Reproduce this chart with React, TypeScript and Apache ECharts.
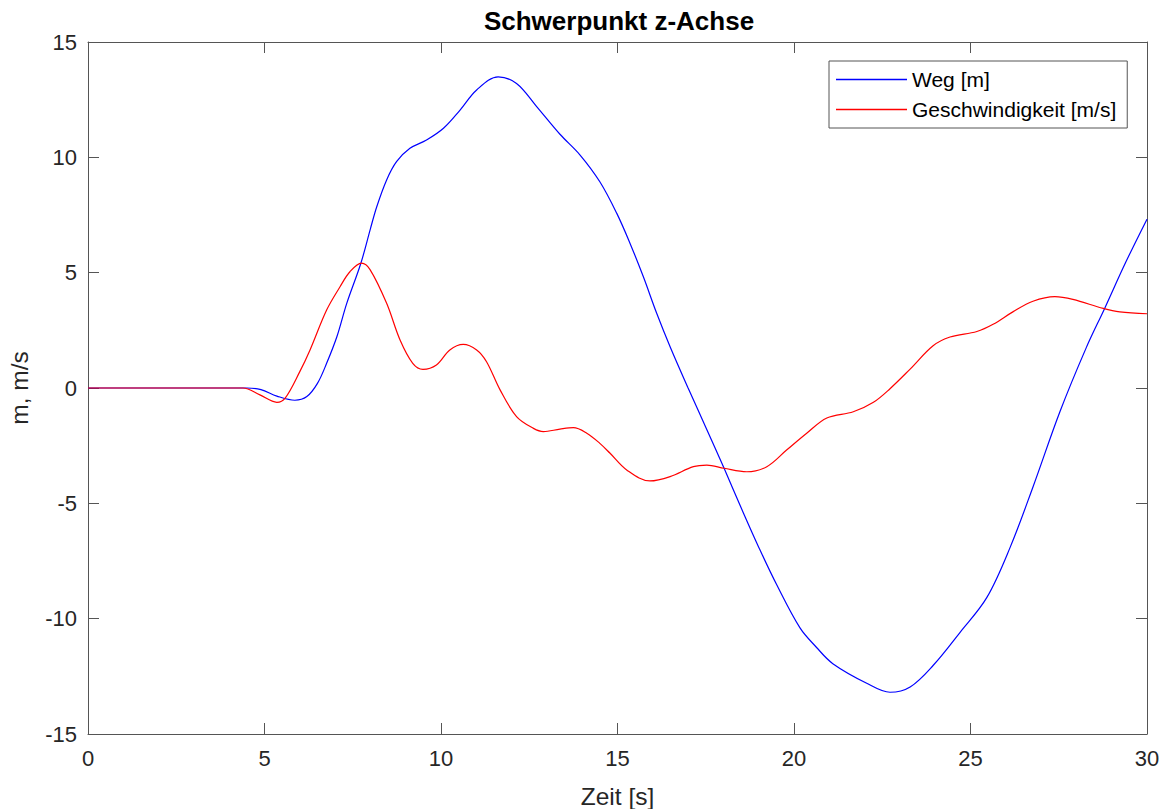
import React, { useEffect, useRef } from "react";
import * as echarts from "echarts";

const chartTitle = "Schwerpunkt z-Achse";
const xName = "Zeit [s]";
const yName = "m, m/s";
const seriesNames = ["Weg [m]", "Geschwindigkeit [m/s]"];

const tWeg = [0, 2, 4, 4.5, 4.9, 5.35, 5.86, 6.2, 6.5, 6.76, 7.05, 7.33, 7.73, 8.0, 8.18, 8.46, 8.74, 9.12, 9.59, 10.07, 10.54, 11.01, 11.62, 12.14, 12.71, 13.37, 13.94, 14.5, 14.98, 15.35, 15.73, 16.11, 16.49, 17.0, 17.5, 18.02, 18.53, 19.0, 19.5, 20.17, 20.64, 21.1, 22.06, 22.72, 23.29, 23.94, 24.7, 25.46, 26.12, 26.77, 27.53, 28.28, 28.8, 29.4, 30];
const weg = [0, 0, 0, 0, -0.07, -0.35, -0.53, -0.37, 0.2, 1.07, 2.22, 3.67, 5.41, 6.9, 7.86, 9.02, 9.81, 10.39, 10.75, 11.26, 12.05, 12.92, 13.49, 13.2, 12.2, 11.0, 10.1, 8.94, 7.57, 6.29, 4.83, 3.24, 1.79, 0, -1.7, -3.48, -5.29, -6.9, -8.5, -10.4, -11.25, -11.95, -12.8, -13.19, -12.96, -12.03, -10.6, -9.09, -6.92, -4.29, -1.04, 1.75, 3.45, 5.46, 7.32];

const tV = [0, 2, 4, 4.39, 4.87, 5.35, 5.58, 6.0, 6.29, 6.76, 7.14, 7.42, 7.75, 7.99, 8.46, 8.84, 9.2, 9.49, 9.87, 10.25, 10.63, 11.01, 11.29, 11.67, 12.14, 12.62, 12.9, 13.37, 13.75, 14.13, 14.5, 14.79, 15.26, 15.92, 16.49, 17.15, 17.53, 18.02, 18.66, 19.23, 19.79, 20.36, 20.93, 21.68, 22.25, 22.72, 23.29, 23.94, 24.42, 25.18, 25.64, 26.2, 26.77, 27.39, 27.9, 28.76, 29.23, 30];
const geschw = [0, 0, 0, 0, -0.3, -0.62, -0.45, 0.71, 1.65, 3.38, 4.39, 5.04, 5.41, 5.13, 3.67, 2.08, 1.07, 0.81, 1.0, 1.65, 1.89, 1.65, 1.14, -0.07, -1.24, -1.75, -1.89, -1.78, -1.72, -1.96, -2.4, -2.83, -3.55, -4.03, -3.84, -3.41, -3.34, -3.48, -3.63, -3.41, -2.69, -1.96, -1.3, -1.03, -0.62, -0.03, 0.82, 1.83, 2.21, 2.45, 2.76, 3.3, 3.76, 3.96, 3.84, 3.45, 3.3, 3.22];

const FONT = "'Liberation Sans', Arial, Helvetica, sans-serif";
const AXIS = "#555555";
const TXT = "#262626";

export default function App() {
  const ref = useRef<HTMLDivElement>(null);
  useEffect(() => {
    if (!ref.current) return;
    const chart = echarts.init(ref.current, undefined, { renderer: "svg" });
    const axisCommon = {
      type: "value" as const,
      axisLine: { show: true, onZero: false, lineStyle: { color: AXIS, width: 1 } },
      axisTick: { show: true, inside: true, length: 11, lineStyle: { color: AXIS, width: 1 } },
      splitLine: { show: false },
    };
    chart.setOption({
      animation: false,
      backgroundColor: "#ffffff",
      title: {
        text: chartTitle,
        left: 619,
        top: 8,
        padding: 0,
        textAlign: "center",
        textStyle: { fontFamily: FONT, fontSize: 26, fontWeight: "bold", color: "#000" },
      },
      legend: {
        orient: "vertical",
        left: 829,
        top: 61,
        padding: [8, 11, 8, 7],
        itemWidth: 71,
        itemHeight: 1.5,
        itemGap: 9,
        borderColor: AXIS,
        borderWidth: 1,
        backgroundColor: "#fff",
        textStyle: { fontFamily: FONT, fontSize: 21, color: "#000", lineHeight: 20 },
        data: seriesNames.map((n) => ({ name: n, icon: "rect" })),
      },
      grid: {
        left: 88,
        top: 42,
        width: 1059,
        height: 692,
        containLabel: false,
        outerBoundsMode: "none",
      },
      xAxis: [
        {
          ...axisCommon,
          position: "bottom",
          min: 0,
          max: 30,
          interval: 5,
          name: xName,
          nameLocation: "middle",
          nameGap: 50,
          nameTextStyle: { fontFamily: FONT, fontSize: 24.5, color: TXT },
          axisLabel: { margin: 13, fontFamily: FONT, fontSize: 22, color: TXT },
        },
        {
          ...axisCommon,
          position: "top",
          min: 0,
          max: 30,
          interval: 5,
          axisLabel: { show: false },
        },
      ],
      yAxis: [
        {
          ...axisCommon,
          position: "left",
          min: -15,
          max: 15,
          interval: 5,
          name: yName,
          nameLocation: "middle",
          nameGap: 56,
          nameTextStyle: { fontFamily: FONT, fontSize: 24.5, color: TXT },
          axisLabel: { margin: 11, fontFamily: FONT, fontSize: 22, color: TXT },
        },
        {
          ...axisCommon,
          position: "right",
          min: -15,
          max: 15,
          interval: 5,
          axisLabel: { show: false },
        },
      ],
      series: [
        {
          name: seriesNames[0],
          type: "line",
          xAxisIndex: 0,
          yAxisIndex: 0,
          symbol: "none",
          smooth: 0.35,
          color: "#0000ff",
          lineStyle: { color: "#0000ff", width: 1.2 },
          data: tWeg.map((t, i) => [t, weg[i]]),
        },
        {
          name: seriesNames[1],
          type: "line",
          xAxisIndex: 0,
          yAxisIndex: 0,
          symbol: "none",
          smooth: 0.35,
          color: "#ff0000",
          lineStyle: { color: "#ff0000", width: 1.2 },
          data: tV.map((t, i) => [t, geschw[i]]),
        },
      ],
    });
    return () => chart.dispose();
  }, []);
  return (
    <div
      ref={ref}
      style={{ position: "fixed", left: 0, top: 0, width: 1168, height: 809, background: "#fff" }}
    />
  );
}
